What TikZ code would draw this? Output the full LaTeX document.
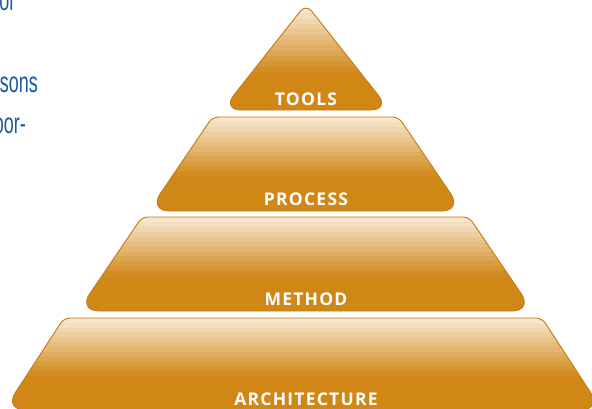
\documentclass[tikz,border=0pt]{standalone}
\usepackage{fontspec}
\setmainfont{Open Sans}
\newfontfamily\labfont[LetterSpace=7]{Open Sans}
\newfontfamily\sidefont{Liberation Sans}
\definecolor{pyr}{RGB}{208,135,22}
\definecolor{pyrlight}{RGB}{249,236,217}
\definecolor{pyredge}{RGB}{196,124,20}
\definecolor{sideblue}{RGB}{30,90,160}
\tikzset{
  lab/.style={text=white, font=\labfont\bfseries\fontsize{17.5}{17.5}\selectfont, inner sep=0pt, anchor=base},
  side/.style={text=sideblue, font=\sidefont\fontsize{29}{29}\selectfont, inner sep=0pt, anchor=base east},
  edge/.style={draw=pyredge, line width=0.9pt},
}
% stripes: #1 top y, #2 gradient height, #3 left x, #4 right x
\newcommand\pyrstripes[4]{%
  \fill[pyr] (#3,#1) rectangle (#4,420);
  \foreach \i in {0,...,11}{%
    \pgfmathsetmacro\ya{#1+\i*#2/12}%
    \pgfmathsetmacro\yb{#1+(\i+1)*#2/12+0.3}%
    \pgfmathsetmacro\pc{int(6+88*\i/11)}%
    \fill[pyr!\pc!pyrlight] (#3,\ya) rectangle (#4,\yb);
  }%
}
% trapezoid tier: #1 top y, #2 bottom y, #3 top halfwidth, #4 bottom halfwidth, #5 centre x
\newcommand\tierpath[5]{(#5,#2) [rounded corners=21pt] -- (#5-#4,#2) [rounded corners=6pt] -- (#5-#3,#1) -- (#5+#3,#1) [rounded corners=21pt] -- (#5+#4,#2) -- cycle}
\newcommand\tier[5]{%
  \begin{scope}
    \clip \tierpath{#1}{#2}{#3}{#4}{#5};
    \pgfmathsetmacro\gh{0.63*(#2-#1)}%
    \pyrstripes{#1}{\gh}{#5-#4-5}{#5+#4+5}
  \end{scope}
  \draw[edge] \tierpath{#1}{#2}{#3}{#4}{#5};
}
\begin{document}
\begin{tikzpicture}[x=1pt,y=-1pt]
\useasboundingbox (0,0) rectangle (592,408);
\clip (0,0) rectangle (592,408);
\fill[white] (0,0) rectangle (592,408);

% side text (cut off at the left edge)
\node[side] (t1) at (15.5,10) {\scalebox{0.62}[1]{or}};
\node[side] (t2) at (38,92) {\scalebox{0.62}[1]{sons}};
\node[side] (t3) at (26,133) {\scalebox{0.62}[1]{oor-}};

% tools (triangle)
\begin{scope}
  \clip (306,110) [rounded corners=19pt] -- (222,110) [rounded corners=9pt] -- (306,4) [rounded corners=19pt] -- (390,110) -- cycle;
  \pyrstripes{8}{64}{215}{397}
\end{scope}
\draw[edge] (306,110) [rounded corners=19pt] -- (222,110) [rounded corners=9pt] -- (306,4) [rounded corners=19pt] -- (390,110) -- cycle;

% process, method, architecture
\tier{117}{211}{93}{157}{305.5}
\tier{217}{311}{163.5}{227.5}{305.5}
\tier{318}{410}{239}{299}{303}

\node[lab] (tools) at (306,105) {TOOLS};
\node[lab] (process) at (306,205) {PROCESS};
\node[lab] (method) at (306,305) {METHOD};
\node[lab] (arch) at (306,405) {ARCHITECTURE};
\end{tikzpicture}
\end{document}
